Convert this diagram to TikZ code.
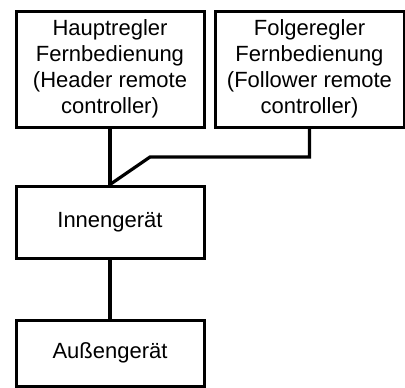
\documentclass[tikz,border=0pt]{standalone}
\usepackage{fontspec}
\setmainfont{Liberation Sans}
\usetikzlibrary{positioning,calc}
\tikzset{
  wire/.style={black,line width=3.2pt},
  unitbox/.style={draw=black,line width=3pt,fill=white,align=center,
                  text=black,inner sep=0pt,
                  font=\fontsize{22}{26}\selectfont},
}

\begin{document}
\begin{tikzpicture}[x=1pt,y=-1pt]
    \useasboundingbox (0,0) rectangle (405,388);
    % remote controllers on top, indoor unit, outdoor unit
    \node[unitbox,minimum width=188pt,minimum height=116pt] (header) at (110,69)
      {Hauptregler\\Fernbedienung\\(Header remote\\controller)};
    \node[unitbox,minimum width=189pt,minimum height=116pt] (follower) at (309.5,69)
      {Folgeregler\\Fernbedienung\\(Follower remote\\controller)};
    \node[unitbox,minimum width=188pt,minimum height=72pt] (innen) at (110,222) {Innenger\"at};
    \node[unitbox,minimum width=188pt,minimum height=66pt] (aussen) at (110,353) {Au\ss enger\"at};

    \coordinate (bend) at (150,157);
    \draw[wire] (header.south) -- (innen.north);
    \draw[wire] (follower.south) -- (follower.south |- bend) -- (bend) -- (innen.north);
    \draw[wire] (innen.south) -- (aussen.north);
  \end{tikzpicture}
\end{document}
